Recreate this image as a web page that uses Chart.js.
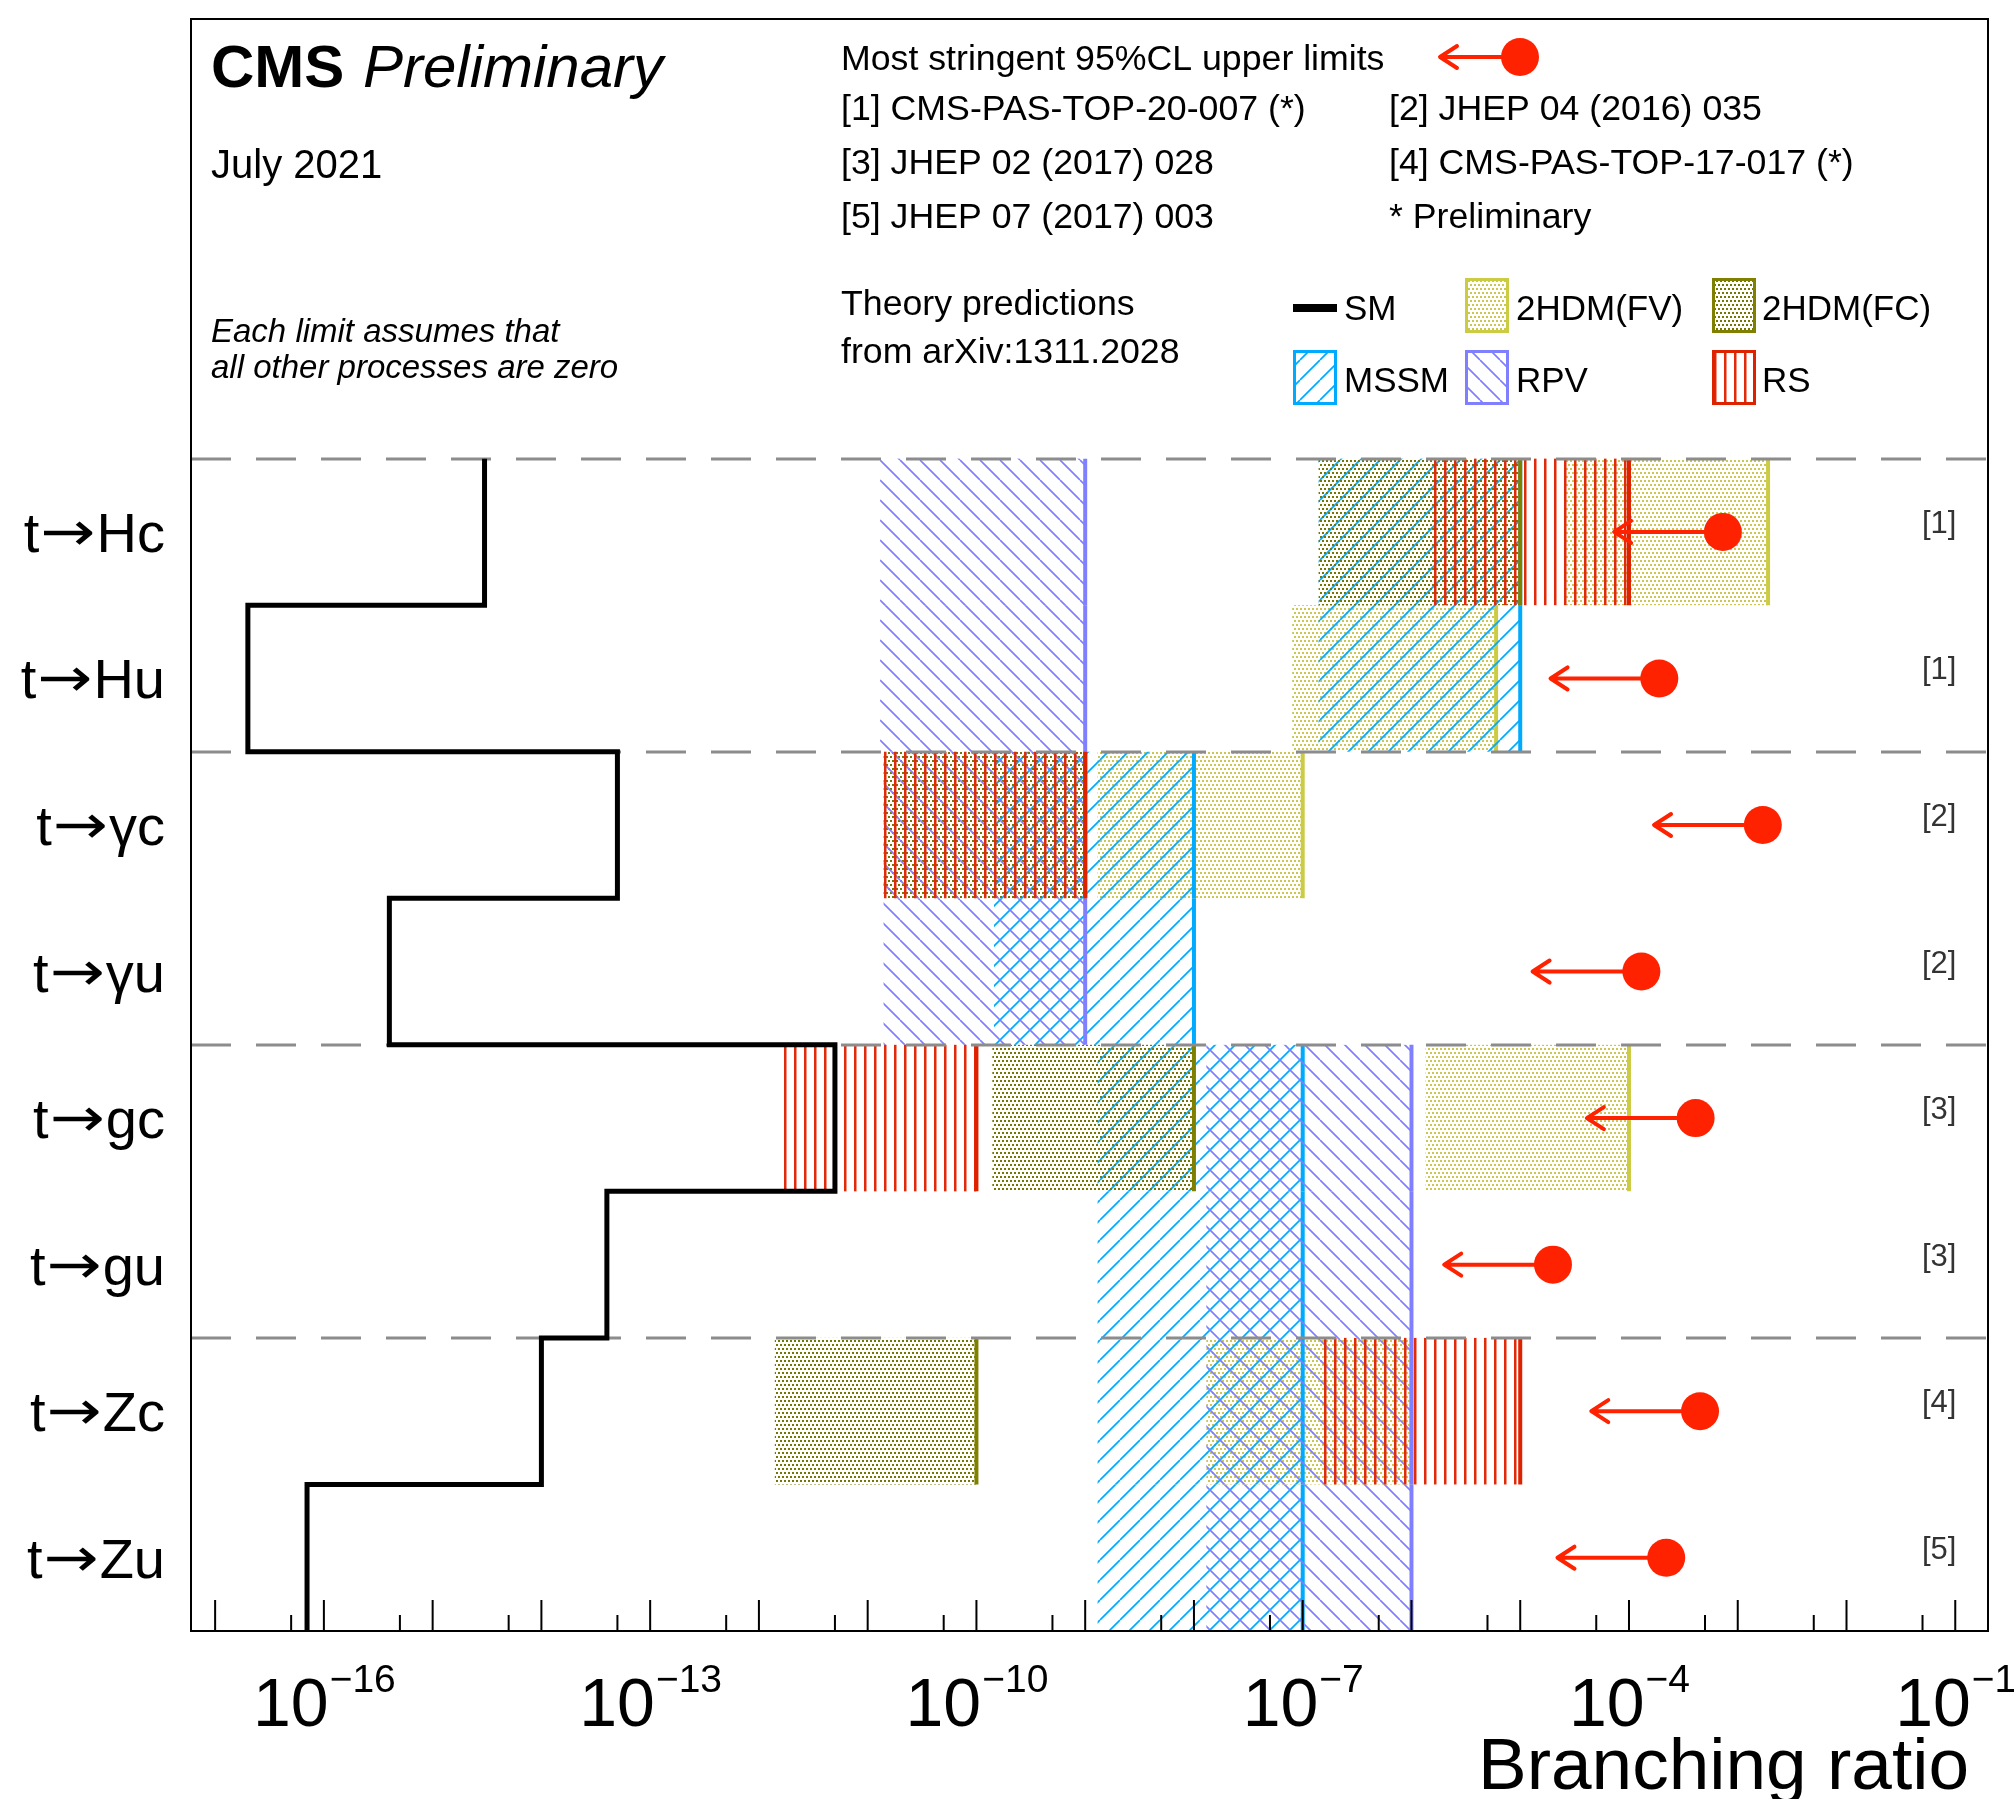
<!DOCTYPE html>
<html>
<head>
<meta charset="utf-8">
<title>Top FCNC branching ratio limits</title>
<script src="https://cdn.jsdelivr.net/npm/chart.js@4.4.1/dist/chart.umd.min.js"></script>
<style>
  html, body { margin: 0; padding: 0; background: #fff; }
  #wrap { width: 2014px; height: 1799px; }
</style>
</head>
<body>
<div id="wrap"><canvas id="chart" width="2014" height="1799"></canvas></div>
<script>
// channels, top row first (written as t -> final state)
var channelFinal = ['Hc', 'Hu', '\u03b3c', '\u03b3u', 'gc', 'gu', 'Zc', 'Zu'];
var smValues = [3e-15, 2e-17, 5e-14, 4e-16, 5e-12, 4e-14, 1e-14, 7e-17];
var limitValues = [7.3e-4, 1.9e-4, 1.7e-3, 1.3e-4, 4.1e-4, 2.0e-5, 4.5e-4, 2.2e-4];
var limitRefs = ['[1]', '[1]', '[2]', '[2]', '[3]', '[3]', '[4]', '[5]'];

// theory predictions [low, high] per channel (null = none)
var fvRanges   = [[2.6e-5, 1.9e-3], [8e-8, 6e-6], [1.3e-9, 1e-7], null, [1.35e-6, 1e-4], null, [1.3e-8, 1e-6], null];
var mssmRanges = [[1.4e-7, 1e-5], [1.4e-7, 1e-5], [1.45e-10, 1e-8], [1.45e-10, 1e-8], [1.3e-9, 1e-7], [1.3e-9, 1e-7], [1.3e-9, 1e-7], [1.3e-9, 1e-7]];
var fcRanges   = [[1.4e-7, 1e-5], null, [1.4e-11, 1e-9], null, [1.4e-10, 1e-8], null, [1.4e-12, 1e-10], null];
var rpvRanges  = [[1.3e-11, 1e-9], [1.3e-11, 1e-9], [1.4e-11, 1e-9], [1.4e-11, 1e-9], [1.3e-8, 1e-6], [1.3e-8, 1e-6], [1.3e-8, 1e-6], [1.3e-8, 1e-6]];
var rsRanges   = [[1.5e-6, 1e-4], null, [1.4e-11, 1e-9], null, [1.6e-12, 1e-10], null, [1.4e-7, 1e-5], null];

var tickExponents = [-16, -13, -10, -7, -4, -1];
var refsLeft  = ['[1] CMS-PAS-TOP-20-007 (*)', '[3] JHEP 02 (2017) 028', '[5] JHEP 07 (2017) 003'];
var refsRight = ['[2] JHEP 04 (2016) 035', '[4] CMS-PAS-TOP-17-017 (*)', '* Preliminary'];

var FONT = '"Liberation Sans", Arial, Helvetica, sans-serif';
var ARROW_FONT = '"DejaVu Sans", sans-serif';
var LIMIT_RED = '#ff2200';

var canvas = document.getElementById('chart');
var ctx = canvas.getContext('2d');

function makePattern(kind, color) {
    var c = document.createElement('canvas');
    var g = c.getContext('2d');
    if (kind === 'dots') {
        c.width = 4; c.height = 8;
        g.fillStyle = color;
        g.fillRect(0, 0, 2, 2);
        g.fillRect(2, 4, 2, 2);
    } else if (kind === 'vert') {
        c.width = 10; c.height = 10;
        g.fillStyle = color;
        g.fillRect(4, 0, 2.5, 10);
    } else {
        var s = 20;
        c.width = s; c.height = s;
        g.strokeStyle = color;
        g.lineWidth = 1.7;
        g.beginPath();
        for (var k = -1; k <= 1; k++) {
            if (kind === 'fwd') { g.moveTo(k * s, s); g.lineTo(k * s + s, 0); }
            else { g.moveTo(k * s, 0); g.lineTo(k * s + s, s); }
        }
        g.stroke();
    }
    return ctx.createPattern(c, 'repeat');
}

// drawing order matters for the edge lines
var models = [
    {name: '2HDM(FV)', ranges: fvRanges,   color: '#cccc44', dot: '#cdc752', kind: 'dots'},
    {name: 'MSSM',     ranges: mssmRanges, color: '#00aaff', dot: '#00aaff', kind: 'fwd'},
    {name: '2HDM(FC)', ranges: fcRanges,   color: '#808000', dot: '#767600', kind: 'dots'},
    {name: 'RPV',      ranges: rpvRanges,  color: '#8080ff', dot: '#8080ff', kind: 'back'},
    {name: 'RS',       ranges: rsRanges,   color: '#dd2200', dot: '#e02a0a', kind: 'vert'}
];
models.forEach(function(m) { m.pattern = makePattern(m.kind, m.dot); });
function model(name) { return models.filter(function(m) { return m.name === name; })[0]; }

var smPoints = [];
smValues.forEach(function(v, i) {
    smPoints.push({x: v, y: 8 - i});
    smPoints.push({x: v, y: 7 - i});
});
var limitPoints = limitValues.map(function(v, i) { return {x: v, y: 7.5 - i}; });

function drawArrow(c, xFrom, xTo, yy) {
    c.save();
    c.strokeStyle = LIMIT_RED;
    c.lineWidth = 4;
    c.lineCap = 'round';
    c.lineJoin = 'round';
    c.beginPath();
    c.moveTo(xFrom, yy); c.lineTo(xTo + 2, yy);
    c.moveTo(xTo + 17, yy - 11); c.lineTo(xTo, yy); c.lineTo(xTo + 17, yy + 11);
    c.stroke();
    c.restore();
}

function legendBox(c, m, x0, y0, w, h) {
    c.fillStyle = m.pattern;
    c.fillRect(x0, y0, w, h);
    c.strokeStyle = m.color;
    c.lineWidth = 3;
    c.strokeRect(x0 + 1.5, y0 + 1.5, w - 3, h - 3);
}

var fcncPlugin = {
    id: 'fcnc',
    beforeDatasetsDraw: function(chart) {
        var c = chart.ctx, xs = chart.scales.x, ys = chart.scales.y, a = chart.chartArea;
        c.save();
        c.beginPath(); c.rect(a.left, a.top, a.right - a.left, a.bottom - a.top); c.clip();
        models.forEach(function(m) {
            m.ranges.forEach(function(r, i) {
                if (!r) return;
                var x0 = xs.getPixelForValue(r[0]), x1 = xs.getPixelForValue(r[1]);
                var yt = ys.getPixelForValue(8 - i), yb = ys.getPixelForValue(7 - i);
                c.fillStyle = m.pattern;
                c.fillRect(x0, yt, x1 - x0, yb - yt);
                c.strokeStyle = m.color;
                c.lineWidth = 4;
                c.beginPath(); c.moveTo(x1, yt); c.lineTo(x1, yb); c.stroke();
            });
        });
        // group separators
        c.strokeStyle = '#8c8c8c';
        c.lineWidth = 3;
        c.setLineDash([40, 25]);
        [8, 6, 4, 2].forEach(function(v) {
            var yy = Math.round(ys.getPixelForValue(v));
            c.beginPath(); c.moveTo(a.left, yy); c.lineTo(a.right, yy); c.stroke();
        });
        c.setLineDash([]);
        // limit arrows, one decade long
        limitValues.forEach(function(v, i) {
            drawArrow(c, xs.getPixelForValue(v), xs.getPixelForValue(v / 10), ys.getPixelForValue(7.5 - i));
        });
        c.restore();
    },
    afterDraw: function(chart) {
        var c = chart.ctx, xs = chart.scales.x, ys = chart.scales.y, a = chart.chartArea;
        c.save();
        // frame
        c.strokeStyle = '#000';
        c.lineWidth = 2;
        c.strokeRect(a.left, a.top, a.right - a.left, a.bottom - a.top);
        // x ticks, pointing inward
        c.beginPath();
        for (var e = -17; e <= -1; e++) {
            var p = xs.getPixelForValue(Math.pow(10, e));
            if (p > a.left + 1 && p < a.right - 1) { c.moveTo(p, a.bottom); c.lineTo(p, a.bottom - 31); }
            var q = xs.getPixelForValue(5 * Math.pow(10, e));
            if (q > a.left + 1 && q < a.right - 1) { c.moveTo(q, a.bottom); c.lineTo(q, a.bottom - 16); }
        }
        c.stroke();
        // tick labels 10^n
        c.fillStyle = '#000';
        c.textBaseline = 'alphabetic';
        c.textAlign = 'left';
        tickExponents.forEach(function(e) {
            var p = xs.getPixelForValue(Math.pow(10, e));
            var ex = '\u2212' + Math.abs(e);
            c.font = '68px ' + FONT;
            var w1 = c.measureText('10').width;
            c.font = '39px ' + FONT;
            var w2 = c.measureText(ex).width;
            var start = p - (w1 + w2) / 2;
            c.font = '68px ' + FONT;
            c.fillText('10', start, 1726);
            c.font = '39px ' + FONT;
            c.fillText(ex, start + w1 + 1, 1692);
        });
        c.font = '73px ' + FONT;
        c.textAlign = 'right';
        c.fillText('Branching ratio', 1969, 1789);

        // channel labels: t, arrow (stretched), final state, right aligned
        c.textAlign = 'left';
        var stretch = 1.22;
        channelFinal.forEach(function(fs, i) {
            var yy = ys.getPixelForValue(7.5 - i) + 20;
            c.font = '56px ' + FONT;
            var wt = c.measureText('t').width;
            var wf = c.measureText(fs).width;
            c.font = '54px ' + ARROW_FONT;
            var wa = c.measureText('\u2192').width * stretch;
            var x0 = 165 - wf - wa - wt - 2;
            c.font = '56px ' + FONT;
            c.fillText('t', x0, yy);
            c.save();
            c.translate(x0 + wt + 1, yy - 2);
            c.scale(stretch, 1);
            c.font = '54px ' + ARROW_FONT;
            c.fillText('\u2192', 0, 0);
            c.restore();
            c.font = '56px ' + FONT;
            c.fillText(fs, x0 + wt + wa + 2, yy);
        });
        // reference tags
        c.font = '31px ' + FONT;
        c.fillStyle = '#333';
        limitRefs.forEach(function(r, i) {
            c.fillText(r, 1922, ys.getPixelForValue(7.5 - i) + 1);
        });

        // header texts
        c.fillStyle = '#000';
        c.font = 'bold 60px ' + FONT;
        c.fillText('CMS', 211, 87);
        c.font = 'italic 60px ' + FONT;
        c.fillText('Preliminary', 363, 87);
        c.font = '40px ' + FONT;
        c.fillText('July 2021', 211, 178);
        c.font = 'italic 33px ' + FONT;
        c.fillText('Each limit assumes that', 211, 342);
        c.fillText('all other processes are zero', 211, 378);

        c.font = '35.7px ' + FONT;
        c.fillText('Most stringent 95%CL upper limits', 841, 70);
        [120, 174, 228].forEach(function(yy, k) {
            c.fillText(refsLeft[k], 841, yy);
            c.fillText(refsRight[k], 1389, yy);
        });
        c.fillText('Theory predictions', 841, 315);
        c.fillText('from arXiv:1311.2028', 841, 363);

        // limit marker in legend
        drawArrow(c, 1520, 1440, 57);
        c.fillStyle = LIMIT_RED;
        c.beginPath(); c.arc(1520, 57, 19, 0, 2 * Math.PI); c.fill();

        // model legend
        c.strokeStyle = '#000';
        c.lineWidth = 8;
        c.beginPath(); c.moveTo(1293, 308); c.lineTo(1337, 308); c.stroke();
        legendBox(c, model('2HDM(FV)'), 1465, 278, 44, 55);
        legendBox(c, model('2HDM(FC)'), 1712, 278, 44, 55);
        legendBox(c, model('MSSM'), 1293, 350, 44, 55);
        legendBox(c, model('RPV'), 1465, 350, 44, 55);
        legendBox(c, model('RS'), 1712, 350, 44, 55);
        c.fillStyle = '#000';
        c.font = '35px ' + FONT;
        c.fillText('SM', 1344, 320);
        c.fillText('2HDM(FV)', 1516, 320);
        c.fillText('2HDM(FC)', 1762, 320);
        c.fillText('MSSM', 1344, 392);
        c.fillText('RPV', 1516, 392);
        c.fillText('RS', 1762, 392);
        c.restore();
    }
};

var chart = new Chart(ctx, {
    type: 'scatter',
    data: {
        datasets: [
            {
                label: 'Most stringent 95%CL upper limits',
                data: limitPoints,
                showLine: false,
                pointRadius: 19,
                pointHoverRadius: 19,
                pointBackgroundColor: LIMIT_RED,
                pointBorderWidth: 0
            },
            {
                label: 'SM',
                data: smPoints,
                showLine: true,
                fill: false,
                borderColor: '#000',
                borderWidth: 5,
                borderJoinStyle: 'miter',
                pointRadius: 0,
                pointHoverRadius: 0
            }
        ]
    },
    options: {
        responsive: false,
        animation: false,
        devicePixelRatio: 1,
        events: [],
        layout: { padding: { left: 191, top: 17, right: 26, bottom: 168 } },
        scales: {
            x: { type: 'logarithmic', min: 6e-18, max: 0.2, bounds: 'data', display: false },
            y: { type: 'linear', min: 0, max: 11, display: false }
        },
        plugins: {
            legend: { display: false },
            tooltip: { enabled: false }
        }
    },
    plugins: [fcncPlugin]
});
</script>
</body>
</html>
